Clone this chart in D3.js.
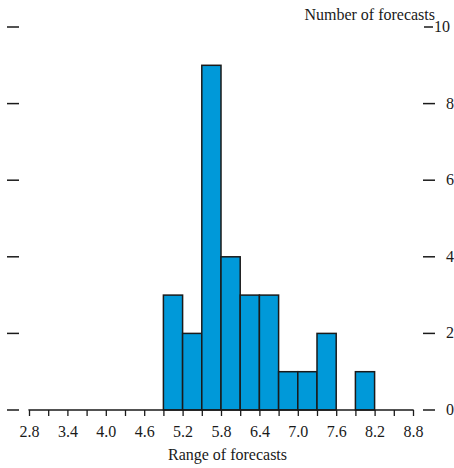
<!DOCTYPE html>
<html>
<head>
<meta charset="utf-8">
<script src="https://cdn.jsdelivr.net/npm/d3@7"></script>
<style>
  html, body { margin: 0; padding: 0; background: #fff; }
  svg { display: block; }
  text { font-family: "Liberation Serif", "Times New Roman", serif; fill: #1a1a1a; }
</style>
</head>
<body>
<svg id="chart" width="454" height="468"></svg>
<script>
// Data
const binStarts = [4.9, 5.2, 5.5, 5.8, 6.1, 6.4, 6.7, 7.0, 7.3, 7.6, 7.9];
const counts    = [3,   2,   9,   4,   3,   3,   1,   1,   2,   0,   1];
const binWidth = 0.3;
const xTickValues = d3.range(0, 21).map(i => +(2.8 + i * 0.3).toFixed(1));
const xLabelValues = [2.8, 3.4, 4.0, 4.6, 5.2, 5.8, 6.4, 7.0, 7.6, 8.2, 8.8];
const yTickValues = [0, 2, 4, 6, 8, 10];
const xTitle = "Range of forecasts";
const yTitle = "Number of forecasts";

const svg = d3.select("#chart");
const x = d3.scaleLinear().domain([2.8, 8.8]).range([29, 413]);
const y = d3.scaleLinear().domain([0, 10]).range([410, 27]);

// Bars
svg.append("g").selectAll("rect")
  .data(binStarts.map((s, i) => ({s, c: counts[i]})).filter(d => d.c > 0))
  .join("rect")
  .attr("x", d => x(d.s))
  .attr("width", d => x(d.s + binWidth) - x(d.s))
  .attr("y", d => y(d.c))
  .attr("height", d => y(0) - y(d.c))
  .attr("fill", "#0099d9")
  .attr("stroke", "#1a1a1a")
  .attr("stroke-width", 1.5);

// X axis
const xAxis = d3.axisBottom(x)
  .tickValues(xTickValues)
  .tickSize(6)
  .tickFormat(d => xLabelValues.some(v => Math.abs(v - d) < 1e-6) ? d3.format(".1f")(d) : "")
  .tickPadding(10);
const gx = svg.append("g").attr("transform", `translate(0,${y(0)})`).call(xAxis);
gx.select(".domain").attr("d", `M${x(2.8)},0.5V0H${x(8.8)}V0.5`).attr("stroke", "#1a1a1a").attr("stroke-width", 1.3);
gx.selectAll(".tick line").attr("stroke", "#1a1a1a").attr("stroke-width", 1.3);
gx.selectAll(".tick text").attr("font-size", 16).attr("font-family", "Liberation Serif").attr("fill", "#1a1a1a");

// Left dashes
svg.append("g").selectAll("line")
  .data(yTickValues)
  .join("line")
  .attr("x1", 7).attr("x2", 19)
  .attr("y1", d => y(d)).attr("y2", d => y(d))
  .attr("stroke", "#1a1a1a").attr("stroke-width", 1.5);

// Right dashes and labels
const right = svg.append("g");
right.selectAll("line")
  .data(yTickValues)
  .join("line")
  .attr("x1", d => d === 10 ? 424 : 423).attr("x2", d => d === 10 ? 433 : 435)
  .attr("y1", d => y(d)).attr("y2", d => y(d))
  .attr("stroke", "#1a1a1a").attr("stroke-width", 1.5);
right.selectAll("text")
  .data(yTickValues)
  .join("text")
  .attr("x", d => d === 10 ? 434 : 446)
  .attr("y", d => y(d) + 5)
  .attr("font-size", 16)
  .text(d => d);

// Titles
svg.append("text")
  .attr("x", 435).attr("y", 20)
  .attr("text-anchor", "end")
  .attr("font-size", 16)
  .text(yTitle);
svg.append("text")
  .attr("x", 227.5).attr("y", 460)
  .attr("text-anchor", "middle")
  .attr("font-size", 16)
  .text(xTitle);
</script>
</body>
</html>
